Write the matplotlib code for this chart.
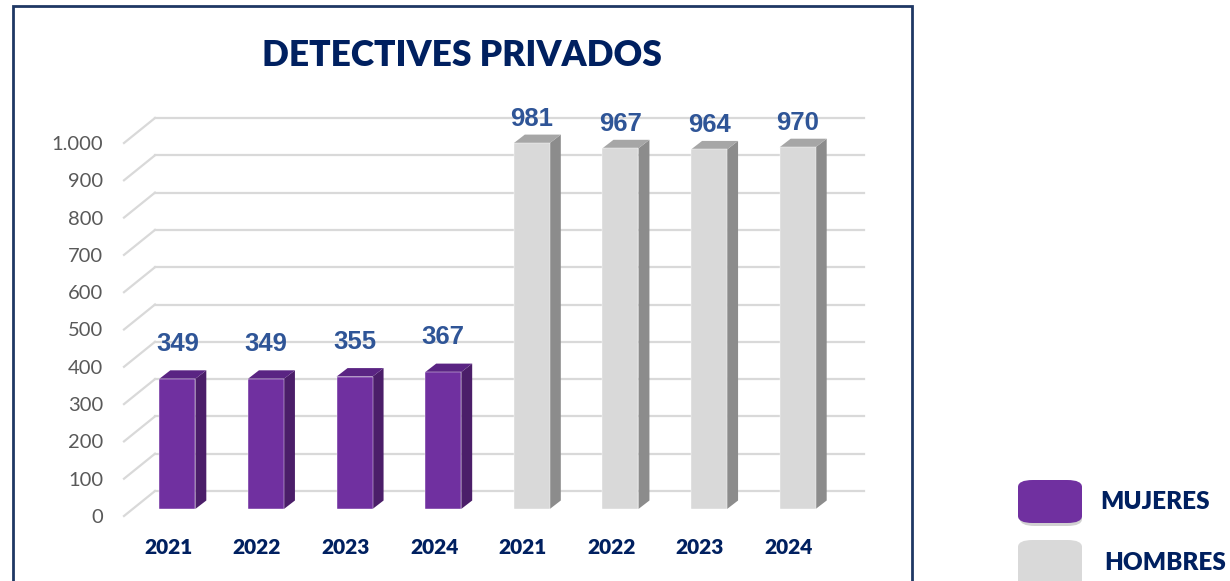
import matplotlib
matplotlib.use("Agg")
import matplotlib.pyplot as plt
from matplotlib.patches import Polygon, Rectangle, FancyBboxPatch
from matplotlib.transforms import ScaledTranslation

# data
years = ["2021", "2022", "2023", "2024", "2021", "2022", "2023", "2024"]
mujeres = [349, 349, 355, 367]
hombres = [981, 967, 964, 970]
series_names = ["MUJERES", "HOMBRES"]
y_ticks = [0, 100, 200, 300, 400, 500, 600, 700, 800, 900, 1000]
y_tick_labels = ["0", "100", "200", "300", "400", "500", "600", "700", "800", "900", "1.000"]

values = mujeres + hombres
is_muj = [True] * len(mujeres) + [False] * len(hombres)

NAVY = "#002060"
LBL = "#2f5597"
PURPLE = ("#7030a0", "#4b1e69", "#5a2483")   # front, side, top
GREY = ("#d9d9d9", "#8c8c8c", "#a6a6a6")

fig = plt.figure(figsize=(12.3, 5.81), dpi=100)
W, H = 1230, 581

# chart frame
fig.patches.append(Rectangle((13 / W, -0.05), (912 - 13) / W, (H - 6) / H + 0.05,
                             transform=fig.transFigure, fill=False,
                             edgecolor="#1f3864", lw=2))

ax = fig.add_axes([124 / W, (H - 516) / H, 709 / W, (516 - 143) / H])
ax.set_xlim(-0.5, len(values) - 0.5)
ax.set_ylim(0, 1000)
for s in ax.spines.values():
    s.set_visible(False)

px_x = 709 / len(values)      # pixels per category
px_y = (516 - 143) / 1000     # pixels per value unit

# grid: diagonal wall + back lines
gdx, gdy = 31, 25
back = ax.transData + ScaledTranslation(gdx / 100, gdy / 100, fig.dpi_scale_trans)
for v in y_ticks:
    ax.plot([-0.5, -0.5 + gdx / px_x], [v, v + gdy / px_y], color="#d9d9d9",
            lw=1.6, clip_on=False, zorder=1)
    ax.plot([-0.5, len(values) - 0.5], [v, v], color="#d9d9d9", lw=1.6,
            transform=back, clip_on=False, zorder=1)

# bars (front plane shifted into the box)
ox, oy = 9 / px_x, 7 / px_y
bw = 36 / px_x
sdx, sdy = 11 / px_x, 8.5 / px_y
for i, (v, m) in enumerate(zip(values, is_muj)):
    front, side, top = PURPLE if m else GREY
    x0 = i + ox - bw / 2
    x1 = i + ox + bw / 2
    y0, y1 = oy, v + oy
    ax.add_patch(Polygon([(x1, y0), (x1 + sdx, y0 + sdy), (x1 + sdx, y1 + sdy), (x1, y1)],
                         closed=True, facecolor=side, edgecolor="none", zorder=3, clip_on=False))
    ax.add_patch(Polygon([(x0, y1), (x1, y1), (x1 + sdx, y1 + sdy), (x0 + sdx, y1 + sdy)],
                         closed=True, facecolor=top, edgecolor="none", zorder=3, clip_on=False))
    ax.bar(i + ox, v, width=bw, bottom=oy, color=front, zorder=4, clip_on=False,
           edgecolor="#ffffff", linewidth=0.3)
    ax.annotate(str(v), (i + ox, y1), xytext=(0, (35 if m else 24) * 0.72),
                textcoords="offset points", ha="center", va="center",
                fontsize=18.5, fontweight="bold", color=LBL,
                family=["Liberation Sans Narrow", "Liberation Sans"])

ax.set_yticks(y_ticks)
ax.set_yticklabels(y_tick_labels, fontsize=14.5, color="#595959", family="Lato")
ax.set_xticks(range(len(values)))
ax.set_xticklabels(years, fontsize=15, fontweight="heavy", color=NAVY, family="Lato")
ax.tick_params(axis="y", length=0, pad=15)
ax.tick_params(axis="x", length=0, pad=16)

fig.text(462 / W, (H - 55) / H, "DETECTIVES PRIVADOS", ha="center", va="center",
         fontsize=25.5, fontweight="heavy", color=NAVY, family="Lato")

# legend
leg = [(series_names[0], PURPLE[0], 480, 523, 1100, 502),
       (series_names[1], GREY[0], 540, 600, 1104, 563)]
for name, col, ytop, ybot, tx, ty in leg:
    if name == series_names[0]:
        fig.patches.append(FancyBboxPatch((1020 / W, (H - ybot - 3) / H), 62 / W, (ybot - ytop) / H,
                                          boxstyle="round,pad=0,rounding_size=0.012",
                                          transform=fig.transFigure, facecolor="#000000",
                                          alpha=0.18, edgecolor="none"))
    fig.patches.append(FancyBboxPatch((1018 / W, (H - ybot) / H), 64 / W, (ybot - ytop) / H,
                                      boxstyle="round,pad=0,rounding_size=0.012",
                                      transform=fig.transFigure, facecolor=col, edgecolor="none"))
    fig.text(tx / W, (H - ty) / H, name, ha="left", va="center", fontsize=17.5,
             fontweight="heavy", color=NAVY, family="Lato")

fig.savefig("out.png", dpi=100)
